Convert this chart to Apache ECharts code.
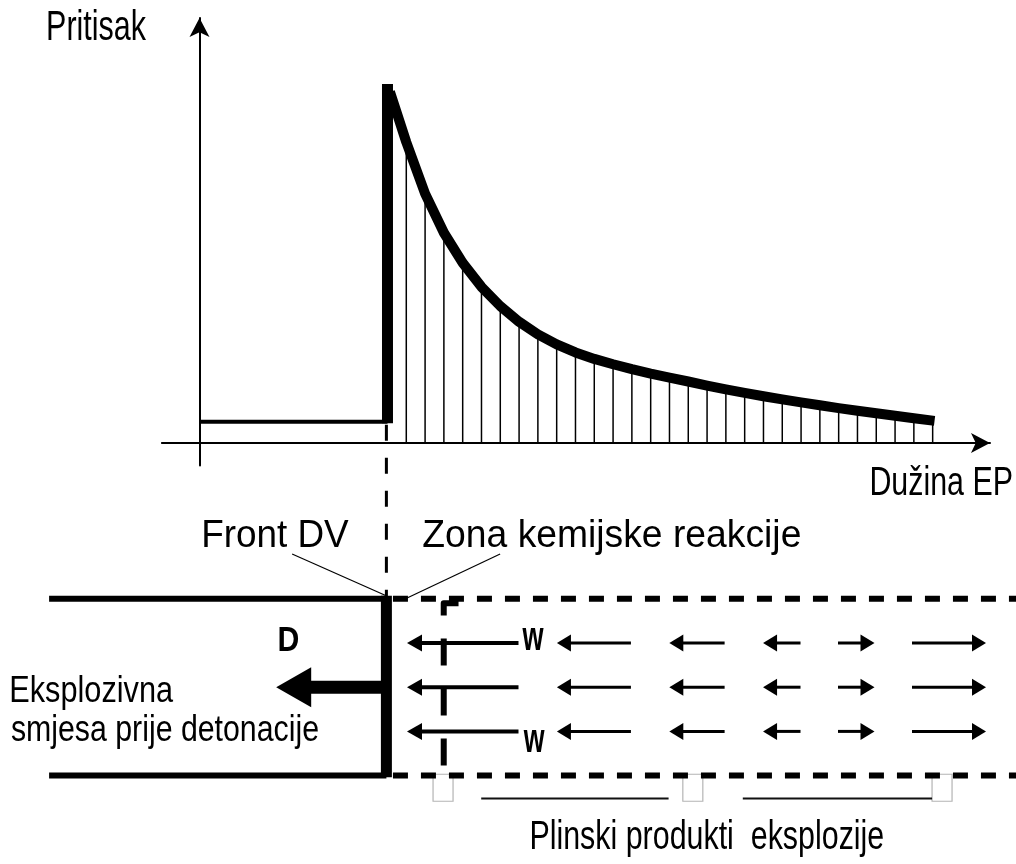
<!DOCTYPE html>
<html><head><meta charset="utf-8">
<script src="https://cdn.jsdelivr.net/npm/echarts@6/dist/echarts.min.js"></script>
<style>html,body{margin:0;padding:0;background:#fff}#chart{width:1016px;height:864px}</style>
</head><body><div id="chart"></div>
<script>
// ================= DATA =================
// Upper plot: pressure along the explosive (EP) length
const initialSegment = [[0, 0.95], [10, 0.95]];          // undisturbed mixture pressure
const frontBar = [[10, 0.88, 10, 16.05]];                 // detonation front (pressure jump)
const curveLength   = [10.13, 11, 12, 13, 14, 15, 16, 17, 18, 19, 20, 21, 22, 23, 24, 25, 26, 27, 28, 29, 30, 31, 32, 33, 34, 35, 36, 37, 38, 39, 39.1];
const curvePressure = [15.7, 13.45, 11.15, 9.4, 8.05, 6.98, 6.12, 5.42, 4.86, 4.41, 4.05, 3.76, 3.52, 3.3, 3.1, 2.92, 2.75, 2.57, 2.4, 2.24, 2.09, 1.95, 1.82, 1.69, 1.56, 1.44, 1.33, 1.22, 1.11, 1.0, 0.99];
const hatchLength   = [11, 12, 13, 14, 15, 16, 17, 18, 19, 20, 21, 22, 23, 24, 25, 26, 27, 28, 29, 30, 31, 32, 33, 34, 35, 36, 37, 38, 39];
const hatchPressure = [13.45, 11.15, 9.4, 8.05, 6.98, 6.12, 5.42, 4.86, 4.41, 4.05, 3.76, 3.52, 3.3, 3.1, 2.92, 2.75, 2.57, 2.4, 2.24, 2.09, 1.95, 1.82, 1.69, 1.56, 1.44, 1.33, 1.22, 1.11, 1.0];

// Lower schematic (same length scale, radial position: tube walls at +-1)
const tubeSolid   = [[-8, 1, 10, 1], [-8, -1, 10, -1]];
const tubeFront   = [[10, -1.02, 10, 1.034]];
const tubeDashedTop = [[10.35, 1], [43.6, 1]];
const tubeDashedBottom = [[10.35, -1], [43.6, -1]];
const frontGuide  = [[10, 2.97], [10, 1.03]];
const zoneBoundary = [[13.85, 0.95], [13.06, 0.95], [13.06, -0.98], [13.7, -0.98]];
const leaderLines = [[4.97, 1.506, 9.96, 1.037], [16.07, 1.506, 11.02, 1.0]];
const detonationArrow = [[9.76, 4.12, 0]];                // start, tip, row
const gasArrowRows  = [0.5, 0, -0.5];
const gasArrowStart = [17.05, 23.05, 28.05, 32.1, 34.1, 38.05];
const gasArrowEnd   = [11.1, 19.1, 25.1, 30.1, 36.05, 42.0];
const markerBoxes   = [12.49, 25.82, 39.12];
const underlines    = [[15.06, -1.258, 25.06, -1.258], [29.02, -1.258, 39.12, -1.258]];

const labels = [
  {text: 'Pritisak', left: 48.3, base: 42.7, w: 98.4, size: 42, weight: 'normal'},
  {text: 'Dužina EP', left: 871.7, base: 498.3, w: 140, size: 40, weight: 'normal'},
  {text: 'Front DV', left: 204, base: 550, w: 145, size: 38.5, weight: 'normal'},
  {text: 'Zona kemijske reakcije', left: 423.3, base: 550, w: 376.7, size: 38.5, weight: 'normal'},
  {text: 'D', left: 279.3, base: 653.3, w: 19, size: 35, weight: 'bold'},
  {text: 'Eksplozivna', left: 11.7, base: 705, w: 161.6, size: 37.3, weight: 'normal'},
  {text: 'smjesa prije detonacije', left: 11.7, base: 743.3, w: 306.7, size: 37.3, weight: 'normal'},
  {text: 'w', left: 521.7, base: 653.3, w: 22.3, size: 40, weight: 'bold'},
  {text: 'w', left: 523, base: 755, w: 22, size: 40, weight: 'bold'},
  {text: 'Plinski produkti  eksplozije', left: 531.7, base: 851.7, w: 351.6, size: 40, weight: 'normal'}
];

// ================= BUILD =================
const FONT = '"Liberation Sans", Arial, sans-serif';
const INK = '#000';

const gasArrowData = [];
gasArrowRows.forEach(r => gasArrowStart.forEach((s, i) => gasArrowData.push([s, gasArrowEnd[i], r, i])));

function segSeries(data, xi, style, z) {
  return {
    type: 'custom', xAxisIndex: xi, yAxisIndex: xi, data: data, z: z || 2, silent: true,
    encode: {x: [0, 2], y: [1, 3]},
    renderItem: (p, api) => {
      const a = api.coord([api.value(0), api.value(1)]);
      const b = api.coord([api.value(2), api.value(3)]);
      return {type: 'line', shape: {x1: a[0], y1: a[1], x2: b[0], y2: b[1]},
              style: Object.assign({stroke: INK, fill: null, lineCap: 'butt'}, style)};
    }
  };
}
function polySeries(data, xi, width, dash, z) {
  return {type: 'line', xAxisIndex: xi, yAxisIndex: xi, data: data, symbol: 'none', silent: true,
          z: z || 2, clip: false, smooth: false,
          lineStyle: {color: INK, width: width, type: dash || 'solid', cap: 'butt', join: 'round'}};
}
function arrowSeries(data, xi, shaftW, headLen, headHalf, z, filterFn) {
  return {
    type: 'custom', xAxisIndex: xi, yAxisIndex: xi, data: data, z: z || 3, silent: true,
    encode: {x: [0, 1], y: 2},
    renderItem: (p, api) => {
      if (filterFn && !filterFn(api.value(3))) return null;
      const a = api.coord([api.value(0), api.value(2)]);
      const b = api.coord([api.value(1), api.value(2)]);
      const dir = b[0] > a[0] ? 1 : -1;
      const baseX = b[0] - dir * headLen;
      return {type: 'group', children: [
        {type: 'line', shape: {x1: a[0], y1: a[1], x2: baseX + dir * 1, y2: b[1]},
         style: {stroke: INK, lineWidth: shaftW, lineCap: 'butt'}},
        {type: 'polygon', shape: {points: [[b[0], b[1]], [baseX, b[1] - headHalf], [baseX, b[1] + headHalf]]},
         style: {fill: INK, stroke: null}}
      ]};
    }
  };
}

const meas = document.createElement('canvas').getContext('2d');
const graphics = labels.map(l => {
  const font = l.weight + ' ' + l.size + 'px ' + FONT;
  meas.font = font;
  const m = meas.measureText(l.text);
  const ink = (m.actualBoundingBoxRight + m.actualBoundingBoxLeft) || m.width;
  const s = l.w / ink;
  return {type: 'text', x: l.left + (m.actualBoundingBoxLeft || 0) * s, y: l.base - 0.3465 * l.size,
          scaleX: s, silent: true, z: 10,
          style: {text: l.text, font: font, fill: INK, textAlign: 'left', align: 'left',
                  textVerticalAlign: 'middle', verticalAlign: 'middle'}};
});

const hidden = {show: false};
const option = {
  backgroundColor: '#fff',
  animation: false,
  grid: [
    {left: 161.9, top: 18, width: 828.1, height: 447.4},
    {left: 49.1, top: 422, width: 970.1, height: 445}
  ],
  xAxis: [
    {type: 'value', gridIndex: 0, min: -2, max: 42.05,
     axisLine: {show: true, onZero: true, symbol: ['none', 'arrow'], symbolSize: [15, 19],
                lineStyle: {color: INK, width: 2}},
     axisTick: hidden, axisLabel: hidden, splitLine: hidden},
    {type: 'value', gridIndex: 1, min: -8, max: 43.6, show: false}
  ],
  yAxis: [
    {type: 'value', gridIndex: 0, min: -1, max: 19,
     axisLine: {show: true, onZero: true, symbol: ['none', 'arrow'], symbolSize: [15, 19],
                lineStyle: {color: INK, width: 2}},
     axisTick: hidden, axisLabel: hidden, splitLine: hidden},
    {type: 'value', gridIndex: 1, min: -2, max: 3, show: false}
  ],
  graphic: graphics,
  series: [
    // ---- upper plot ----
    segSeries(hatchLength.map((x, i) => [x, 0, x, hatchPressure[i]]), 0, {lineWidth: 1.5}, 2),
    polySeries(initialSegment, 0, 4, 'solid', 3),
    segSeries(frontBar, 0, {lineWidth: 11}, 4),
    polySeries(curveLength.map((x, i) => [x, curvePressure[i]]), 0, 10, 'solid', 4),
    // ---- lower schematic ----
    polySeries(frontGuide, 1, 3, [16, 17], 2),
    segSeries(tubeSolid, 1, {lineWidth: 6}, 3),
    segSeries(tubeFront, 1, {lineWidth: 11}, 4),
    polySeries(tubeDashedTop, 1, 6, [15, 13], 3),
    polySeries(tubeDashedBottom, 1, 6, [15, 13], 3),
    polySeries(zoneBoundary, 1, 6, [27, 23], 3),
    segSeries(leaderLines, 1, {lineWidth: 1.2}, 3),
    arrowSeries(detonationArrow.map(d => d.concat([0])), 1, 13, 35, 20, 4),
    arrowSeries(gasArrowData, 1, 4, 15, 8.5, 4, i => i === 0),
    arrowSeries(gasArrowData, 1, 3, 14, 8.5, 4, i => i > 0),
    {
      type: 'custom', xAxisIndex: 1, yAxisIndex: 1, silent: true, z: 2,
      data: markerBoxes.map(x => [x, -0.985]),
      renderItem: (p, api) => {
        const a = api.coord([api.value(0), api.value(1)]);
        return {type: 'rect', shape: {x: a[0], y: a[1], width: 20, height: 27},
                style: {fill: null, stroke: '#b4b4b4', lineWidth: 1.2}};
      }
    },
    segSeries(underlines, 1, {lineWidth: 2, stroke: '#111'}, 3)
  ]
};
const chart = echarts.init(document.getElementById('chart'), null, {renderer: 'canvas'});
chart.setOption(option);
</script>
</body></html>
